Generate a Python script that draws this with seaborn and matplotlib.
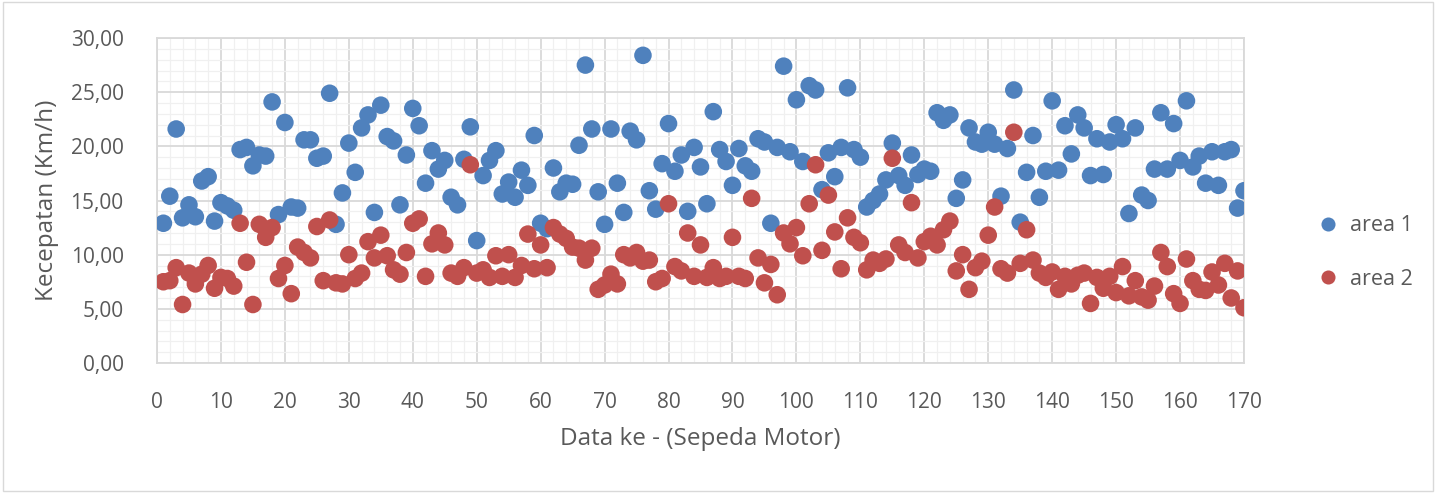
import numpy as np
import pandas as pd
import matplotlib
matplotlib.use("Agg")
import matplotlib.pyplot as plt
from matplotlib.ticker import MultipleLocator, FuncFormatter
import seaborn as sns

area1 = [12.9, 15.4, 21.6, 13.4, 14.6, 13.5, 16.8, 17.2, 13.1, 14.8,
         14.5, 14.1, 19.7, 19.9, 18.2, 19.2, 19.1, 24.1, 13.7, 22.2,
         14.4, 14.3, 20.6, 20.6, 18.9, 19.1, 24.9, 12.8, 15.7, 20.3,
         17.6, 21.7, 22.9, 13.9, 23.8, 20.9, 20.5, 14.6, 19.2, 23.5,
         21.9, 16.6, 19.6, 17.9, 18.7, 15.3, 14.6, 18.8, 21.8, 11.3,
         17.3, 18.7, 19.6, 15.6, 16.7, 15.3, 17.8, 16.4, 21.0, 12.9,
         12.4, 18.0, 15.8, 16.6, 16.5, 20.1, 27.5, 21.6, 15.8, 12.8,
         21.6, 16.6, 13.9, 21.4, 20.6, 28.4, 15.9, 14.2, 18.4, 22.1,
         17.7, 19.2, 14.0, 19.9, 18.1, 14.7, 23.2, 19.7, 18.6, 16.4,
         19.8, 18.2, 17.7, 20.7, 20.4, 12.9, 19.9, 27.4, 19.5, 24.3,
         18.6, 25.6, 25.2, 16.0, 19.4, 17.2, 19.9, 25.4, 19.7, 19.0,
         14.4, 15.0, 15.6, 16.9, 20.3, 17.3, 16.4, 19.2, 17.4, 17.9,
         17.7, 23.1, 22.4, 22.9, 15.2, 16.9, 21.7, 20.4, 20.2, 21.3,
         20.2, 15.4, 19.8, 25.2, 13.0, 17.6, 21.0, 15.3, 17.7, 24.2,
         17.8, 21.9, 19.3, 22.9, 21.7, 17.3, 20.7, 17.4, 20.4, 22.0,
         20.7, 13.8, 21.7, 15.5, 15.0, 17.9, 23.1, 17.9, 22.1, 18.7,
         24.2, 18.1, 19.1, 16.6, 19.5, 16.4, 19.5, 19.7, 14.3, 15.9]

area2 = [7.5, 7.6, 8.8, 5.4, 8.3, 7.3, 8.2, 9.0, 6.9, 7.9,
         7.8, 7.1, 12.9, 9.3, 5.4, 12.8, 11.6, 12.5, 7.8, 9.0,
         6.4, 10.7, 10.2, 9.7, 12.6, 7.6, 13.2, 7.4, 7.3, 10.0,
         7.8, 8.3, 11.2, 9.7, 11.8, 9.9, 8.6, 8.2, 10.2, 12.9,
         13.3, 8.0, 11.0, 12.0, 10.9, 8.3, 8.0, 8.8, 18.3, 8.3,
         8.6, 7.9, 9.9, 8.0, 10.0, 7.9, 9.0, 11.9, 8.7, 10.9,
         8.8, 12.5, 11.9, 11.5, 10.7, 10.6, 9.5, 10.6, 6.8, 7.2,
         8.2, 7.3, 10.0, 9.7, 10.2, 9.4, 9.5, 7.5, 7.8, 14.7,
         8.9, 8.5, 12.0, 8.0, 10.9, 7.9, 8.8, 7.8, 8.0, 11.6,
         8.0, 7.8, 15.2, 9.7, 7.4, 9.1, 6.3, 12.0, 11.0, 12.5,
         9.9, 14.7, 18.3, 10.4, 15.5, 12.1, 8.7, 13.4, 11.6, 11.1,
         8.6, 9.5, 9.2, 9.6, 18.9, 10.9, 10.2, 14.8, 9.7, 11.2,
         11.7, 10.9, 12.3, 13.1, 8.5, 10.0, 6.8, 8.8, 9.4, 11.8,
         14.4, 8.7, 8.3, 21.3, 9.2, 12.3, 9.5, 8.3, 7.9, 8.4,
         6.8, 8.0, 7.3, 8.1, 8.3, 5.5, 7.9, 6.9, 8.0, 6.5,
         8.9, 6.2, 7.6, 6.1, 5.8, 7.1, 10.2, 8.9, 6.4, 5.5,
         9.6, 7.6, 6.8, 6.7, 8.4, 7.2, 9.2, 6.0, 8.5, 5.1]

series_names = ["area 1", "area 2"]
colors = ["#4F81BD", "#C0504D"]

idx = np.arange(1, len(area1) + 1)
df = pd.concat([
    pd.DataFrame({"x": idx, "y": area1, "series": series_names[0]}),
    pd.DataFrame({"x": idx, "y": area2, "series": series_names[1]}),
])

sns.set_theme(style="white")
plt.rcParams['font.family'] = ['Open Sans', 'DejaVu Sans']

fig = plt.figure(figsize=(14.36, 4.93), dpi=100)
ax = fig.add_axes([157/1436, 1 - 363/493, (1244-157)/1436, (363-38)/493])

sns.scatterplot(data=df, x="x", y="y", hue="series", palette=colors,
                s=160, edgecolor="none", ax=ax, zorder=3)

ax.set_xlim(0, 170)
ax.set_ylim(0, 30)
ax.xaxis.set_major_locator(MultipleLocator(10))
ax.xaxis.set_minor_locator(MultipleLocator(2))
ax.yaxis.set_major_locator(MultipleLocator(5))
ax.yaxis.set_minor_locator(MultipleLocator(1))
ax.yaxis.set_major_formatter(FuncFormatter(lambda v, p: f"{v:.2f}".replace(".", ",")))
ax.grid(which="major", color="#D9D9D9", linewidth=1.3, zorder=0)
ax.grid(which="minor", color="#F0F0F0", linewidth=0.9, zorder=0)
ax.set_axisbelow(True)
for s in ax.spines.values():
    s.set_color("#D9D9D9")
    s.set_linewidth(1.3)
ax.tick_params(axis="both", which="both", length=0, labelsize=15,
               labelcolor="#595959")
ax.tick_params(axis="x", pad=21)
ax.tick_params(axis="y", pad=24)
ax.set_xlabel("Data ke - (Sepeda Motor)", fontsize=17.5, color="#595959", labelpad=10)
ax.set_ylabel("Kecepatan (Km/h)", fontsize=17.5, color="#595959", labelpad=8)

leg = ax.legend(loc="center left", bbox_to_anchor=(1.04, 0.34), frameon=False,
                fontsize=15.5, labelspacing=1.5, handletextpad=0.0,
                markerscale=0.8)
for t in leg.get_texts():
    t.set_color("#595959")

fig.patches.append(plt.Rectangle((0.002, 0.004), 0.996, 0.992, transform=fig.transFigure,
                                 fill=False, edgecolor="#D9D9D9", linewidth=1))
fig.savefig("out.png", dpi=100)
